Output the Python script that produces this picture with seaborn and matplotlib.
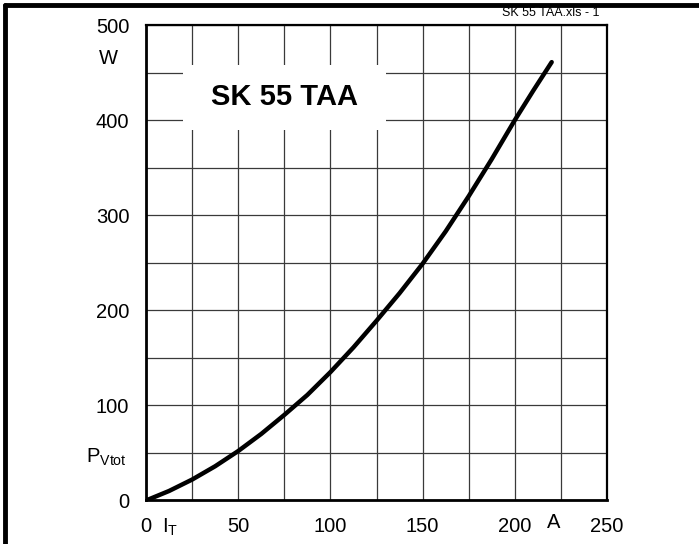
import matplotlib
matplotlib.use("Agg")
import matplotlib.pyplot as plt
import seaborn as sns
import pandas as pd
from matplotlib.patches import Rectangle
from matplotlib.lines import Line2D

# values
current_a = [0, 12.5, 25, 37.5, 50, 62.5, 75, 87.5, 100, 112.5, 125, 137.5,
             150, 162.5, 175, 187.5, 200, 210, 220]
power_w = [0, 10, 22, 36, 52, 70, 90, 111, 135, 161, 189, 218,
           249, 283, 320, 359, 400, 431, 461]

x_ticks = [0, 50, 100, 150, 200, 250]
y_ticks = [0, 100, 200, 300, 400, 500]
x_grid = [25, 75, 125, 175, 225]
y_grid = [50, 150, 250, 350, 450]

title = "SK 55 TAA"
file_note = "SK 55 TAA.xls - 1"

sns.set_style("white")
plt.rcParams['font.family'] = ['Liberation Sans', 'DejaVu Sans']
plt.rcParams['mathtext.fontset'] = 'custom'
plt.rcParams['mathtext.rm'] = 'Liberation Sans'
plt.rcParams['text.color'] = 'black'
plt.rcParams['xtick.color'] = 'black'
plt.rcParams['ytick.color'] = 'black'

df = pd.DataFrame({"I": current_a, "P": power_w})

fig = plt.figure(figsize=(6.99, 5.44), dpi=100)
ax = fig.add_axes([0.2089, 0.080, 0.6595, 0.874])

sns.lineplot(data=df, x="I", y="P", ax=ax, color="black", linewidth=3.2,
             zorder=4, solid_capstyle="round", solid_joinstyle="round")

ax.set_xlim(0, 250)
ax.set_ylim(0, 500)
ax.set_xticks(x_ticks)
ax.set_yticks(y_ticks)
ax.set_xticks(x_grid, minor=True)
ax.set_yticks(y_grid, minor=True)
ax.grid(True, which="both", color="#3a3a3a", linewidth=0.9)
ax.set_axisbelow(True)
ax.tick_params(which="major", direction="out", length=5, width=0.8,
               color="#555555", labelcolor="black", labelsize=14.5, pad=7)
ax.tick_params(which="minor", length=0)
ax.set_xlabel("")
ax.set_ylabel("")

for side in ["left", "bottom", "top", "right"]:
    ax.spines[side].set_visible(True)
    ax.spines[side].set_color("black")
ax.spines["left"].set_linewidth(2)
ax.spines["bottom"].set_linewidth(2)
ax.spines["top"].set_linewidth(1.6)
ax.spines["right"].set_linewidth(1.6)

# extra axis labels placed among the tick labels
ax.annotate("$\\mathregular{I_T}$", xy=(13, 0), xycoords=("data", "axes fraction"),
            xytext=(0, -19), textcoords="offset points", ha="center", va="center",
            fontsize=14.5, annotation_clip=False)
ax.annotate("A", xy=(221, 0), xycoords=("data", "axes fraction"),
            xytext=(0, -16), textcoords="offset points", ha="center", va="center",
            fontsize=14.5, annotation_clip=False)
ax.annotate("W", xy=(0, 465), xycoords=("axes fraction", "data"),
            xytext=(-27, 0), textcoords="offset points", ha="center", va="center",
            fontsize=14.5, annotation_clip=False)
ax.annotate("$\\mathregular{P_{Vtot}}$", xy=(0, 50), xycoords=("axes fraction", "data"),
            xytext=(-14, -3), textcoords="offset points", ha="right", va="center",
            fontsize=14.5, annotation_clip=False)

# white box behind the type name
ax.add_patch(Rectangle((20, 390), 110, 68, facecolor="white", edgecolor="none", zorder=1))
ax.text(75, 424, title, ha="center", va="center", fontsize=21,
        fontweight="bold", zorder=3)

fig.text(599 / 699, 1 - 13 / 544, file_note, ha="right", va="center", fontsize=9)

# frame on top and left of the sheet
fig.add_artist(Line2D([5 / 699, 1], [1 - 5 / 544, 1 - 5 / 544], color="black",
                      linewidth=3.5, transform=fig.transFigure))
fig.add_artist(Line2D([5 / 699, 5 / 699], [0, 1 - 5 / 544], color="black",
                      linewidth=3.5, transform=fig.transFigure))

fig.savefig("out.png", dpi=100)
